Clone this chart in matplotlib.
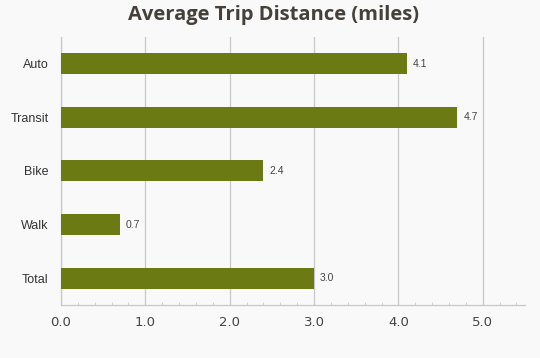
import matplotlib
matplotlib.use('Agg')
import matplotlib.pyplot as plt
from matplotlib.ticker import MultipleLocator

# data
modes = ['Auto', 'Transit', 'Bike', 'Walk', 'Total']
distance = [4.1, 4.7, 2.4, 0.7, 3.0]
xticks = [0.0, 1.0, 2.0, 3.0, 4.0, 5.0]

bg = '#f9f9f9'
bar_color = '#6b7a12'
grid_color = '#c8c8c8'

plt.rcParams['font.family'] = ['Liberation Sans', 'DejaVu Sans']

fig = plt.figure(figsize=(5.4, 3.58), dpi=100, facecolor=bg)
ax = fig.add_axes([0.113, 0.148, 0.859, 0.749], facecolor=bg)

ypos = list(range(len(modes)))
ax.barh(ypos, distance, height=0.39, color=bar_color, zorder=3)
for y, v in zip(ypos, distance):
    ax.text(v + 0.07, y, '{:.1f}'.format(v), va='center', ha='left',
            fontsize=7.5, color='#444444')

ax.set_xlim(0, 5.5)
ax.set_ylim(4.5, -0.5)
ax.set_yticks(ypos)
ax.set_yticklabels(modes, fontsize=9, color='#333333')
ax.set_xticks(xticks)
ax.set_xticklabels(['{:.1f}'.format(t) for t in xticks], fontsize=9.5,
                   color='#444444', family='DejaVu Sans')
ax.xaxis.set_minor_locator(MultipleLocator(0.2))
ax.tick_params(axis='x', which='major', length=0, pad=8)
ax.tick_params(axis='x', which='minor', direction='in', length=2.5, color=grid_color)
ax.tick_params(axis='y', length=0, pad=9)
ax.grid(axis='x', which='major', color=grid_color, linewidth=0.9, zorder=0)

for s in ['top', 'right']:
    ax.spines[s].set_visible(False)
for s in ['left', 'bottom']:
    ax.spines[s].set_color(grid_color)
    ax.spines[s].set_linewidth(0.9)

fig.text(0.507, 0.958, 'Average Trip Distance (miles)', ha='center', va='center',
         fontsize=14.5, fontweight='bold', color='#45403a', family='Open Sans')

plt.savefig('out.png', dpi=100, facecolor=bg)
plt.close()
